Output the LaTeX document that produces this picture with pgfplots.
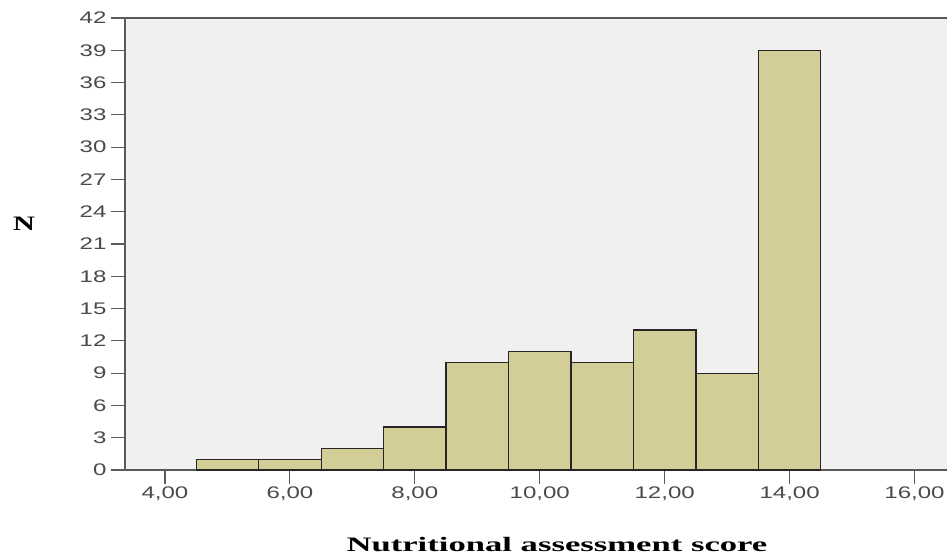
\documentclass[border=0pt]{standalone}
\usepackage{pgfplots}
\pgfplotsset{compat=1.18}
\usepackage{fontspec}
\setmainfont{Liberation Serif}
\newfontfamily\ticksf{Liberation Sans}
\definecolor{bg}{HTML}{F0F0F0}
\definecolor{barfill}{HTML}{D3CE97}
\definecolor{axcol}{HTML}{5A5A5A}
\definecolor{tickcol}{HTML}{4A4A4A}
\begin{document}
\begin{tikzpicture}
\useasboundingbox (-125bp,-88bp) rectangle (822bp,470bp);
\begin{axis}[
  at={(0,0)}, anchor=south west,
  scale only axis, width=822bp, height=452bp,
  xmin=3.36, xmax=16.52, ymin=0, ymax=42,
  axis background/.style={fill=bg},
  axis x line*=bottom, axis y line*=left,
  axis line style={axcol, line width=1.2bp},
  xtick={4,6,...,16}, ytick={0,3,...,42},
  tick align=outside, major tick length=14bp,
  tick style={axcol, line width=1.2bp},
  /pgf/number format/assume math mode=true,
  xticklabel style={/pgf/number format/fixed, /pgf/number format/fixed zerofill, /pgf/number format/precision=2, /pgf/number format/use comma},
  yticklabel style={/pgf/number format/fixed, /pgf/number format/precision=0},
  ticklabel style={font=\ticksf\fontsize{16.8bp}{19bp}\selectfont, text=tickcol, xscale=1.43, inner sep=0pt},
  yticklabel style={anchor=east, xshift=-3bp},
  xticklabel style={anchor=north, yshift=-3bp},
  xlabel={\textbf{Nutritional assessment score}},
  ylabel={\textbf{N}},
  label style={font=\fontsize{20.5bp}{23bp}\selectfont},
  xlabel style={at={(axis description cs:0.5255,0)}, anchor=center, yshift=-75bp, xscale=1.69},
  ylabel style={rotate=-90, at={(axis description cs:0,0.545)}, anchor=center, xshift=-101bp, xscale=1.5},
  clip=false,
]
\addplot[ybar interval, fill=barfill, draw=black!85, line width=1.2bp] coordinates {
  (4.5,1) (5.5,1) (6.5,2) (7.5,4) (8.5,10) (9.5,11) (10.5,10) (11.5,13) (12.5,9) (13.5,39) (14.5,39)};
\draw[axcol, line width=1.2bp] (rel axis cs:0,1) -- (rel axis cs:1,1);
\end{axis}
\end{tikzpicture}
\end{document}
